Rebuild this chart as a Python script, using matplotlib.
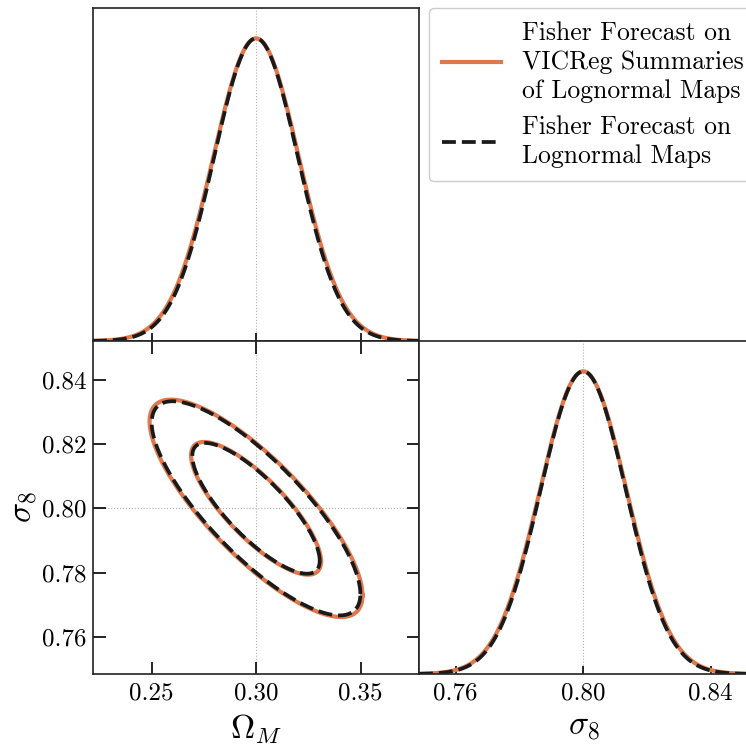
import numpy as np
import matplotlib
matplotlib.use("Agg")
import matplotlib.pyplot as plt

plt.rcParams['font.family'] = 'serif'
plt.rcParams['font.serif'] = ['cmr10']
plt.rcParams['mathtext.fontset'] = 'cm'
plt.rcParams['axes.formatter.use_mathtext'] = True

# fiducial values
fid_om = 0.30
fid_s8 = 0.80

# Fisher forecast widths
series_labels = ["Fisher Forecast on\nVICReg Summaries\nof Lognormal Maps",
                 "Fisher Forecast on\nLognormal Maps"]
sig_om = [0.0205, 0.0201]
sig_s8 = [0.0136, 0.0134]
rho = [-0.80, -0.80]
colors = ['#E0784E', '#1a1a1a']
styles = ['-', '--']
widths = [3.0, 2.7]

om_ticks = [0.25, 0.30, 0.35]
s8_ticks = [0.76, 0.78, 0.80, 0.82, 0.84]
s8_xticks = [0.76, 0.80, 0.84]
om_lim = (0.222, 0.378)
s8_lim = (0.7485, 0.852)

# 2D contour levels (68%, 95%) as delta chi2
levels = [2.30, 6.17]

fig = plt.figure(figsize=(7.46, 7.51), dpi=100)
L, M, R = 0.1247, 0.5617, 1.004
B, H, T = 0.1025, 0.5459, 0.9893
ax_om = fig.add_axes([L, H, M - L, T - H])
ax_2d = fig.add_axes([L, B, M - L, H - B])
ax_s8 = fig.add_axes([M, B, R - M, H - B])

for ax in (ax_om, ax_2d, ax_s8):
    for sp in ax.spines.values():
        sp.set_linewidth(1.2)
        sp.set_color('#222222')

mark = dict(color='#b0b0b0', ls=':', lw=0.8, zorder=0)
ax_om.axvline(fid_om, **mark)
ax_2d.axvline(fid_om, **mark)
ax_2d.axhline(fid_s8, **mark)
ax_s8.axvline(fid_s8, **mark)

xo = np.linspace(om_lim[0], om_lim[1], 400)
xs = np.linspace(s8_lim[0], s8_lim[1], 400)
t = np.linspace(0, 2 * np.pi, 400)
handles = []
for i in range(2):
    kw = dict(color=colors[i], ls=styles[i], lw=widths[i])
    h, = ax_om.plot(xo, np.exp(-0.5 * ((xo - fid_om) / sig_om[i]) ** 2), **kw)
    handles.append(h)
    ax_s8.plot(xs, np.exp(-0.5 * ((xs - fid_s8) / sig_s8[i]) ** 2), **kw)
    cov = np.array([[sig_om[i] ** 2, rho[i] * sig_om[i] * sig_s8[i]],
                    [rho[i] * sig_om[i] * sig_s8[i], sig_s8[i] ** 2]])
    Lc = np.linalg.cholesky(cov)
    for lv in levels:
        pts = Lc @ np.vstack([np.cos(t), np.sin(t)]) * np.sqrt(lv)
        ax_2d.plot(fid_om + pts[0], fid_s8 + pts[1], **kw)

ax_om.set_xlim(om_lim)
ax_om.set_ylim(0, 1.1)
ax_om.set_yticks([])
ax_om.set_xticks(om_ticks)
ax_om.tick_params(axis='x', direction='in', length=6, width=1.2, labelbottom=False)

ax_2d.set_xlim(om_lim)
ax_2d.set_ylim(s8_lim)
ax_2d.set_xticks(om_ticks)
ax_2d.set_yticks(s8_ticks)
ax_2d.xaxis.set_major_formatter(matplotlib.ticker.FormatStrFormatter('%.2f'))
ax_2d.yaxis.set_major_formatter(matplotlib.ticker.FormatStrFormatter('%.2f'))
ax_2d.tick_params(direction='in', length=9, width=1.2, top=True, right=True,
                  labelsize=18, pad=6)
ax_2d.tick_params(axis='y', pad=5)
ax_2d.set_xlabel(r'$\Omega_M$', fontsize=24, labelpad=6)
ax_2d.set_ylabel(r'$\sigma_8$', fontsize=24, labelpad=2)

ax_s8.set_xlim(s8_lim)
ax_s8.set_ylim(0, 1.1)
ax_s8.set_yticks([])
ax_s8.set_xticks(s8_xticks)
ax_s8.xaxis.set_major_formatter(matplotlib.ticker.FormatStrFormatter('%.2f'))
ax_s8.tick_params(axis='x', direction='in', length=6, width=1.2, labelsize=18, pad=6)
ax_s8.set_xlabel(r'$\sigma_8$', fontsize=24, labelpad=6)

leg = fig.legend(handles, series_labels, loc='upper left',
                 bbox_to_anchor=(429 / 746, 1 - 8 / 751), borderaxespad=0,
                 fontsize=18.5, handlelength=2.3, handletextpad=0.8,
                 borderpad=0.5, labelspacing=0.45, fancybox=True, framealpha=1)
leg.get_frame().set_edgecolor('#cccccc')
for txt in leg.get_texts():
    txt.set_linespacing(1.3)

fig.savefig('out.png', dpi=100)
